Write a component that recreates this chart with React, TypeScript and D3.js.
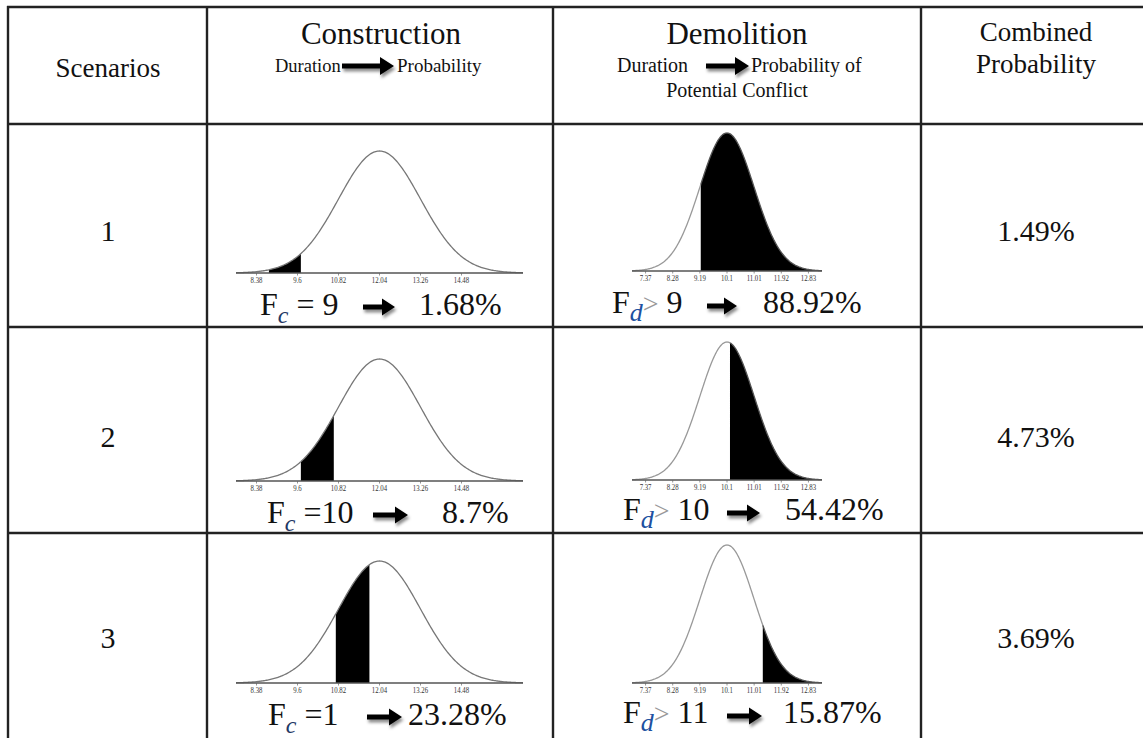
import React from "react";
import * as d3 from "d3";

// Scenario table: construction / demolition duration distributions
const scenarios = ["1", "2", "3"];
const constructionDuration = [9, 10, 1];
const constructionOp = [" = ", " =", " ="];
const constructionProbability = [1.68, 8.7, 23.28];
const demolitionDuration = [9, 10, 11];
const demolitionProbability = [88.92, 54.42, 15.87];
const combinedProbability = [1.49, 4.73, 3.69];

const constructionMean = 12.04;
const constructionSd = 1.22;
const constructionTicks = [8.38, 9.6, 10.82, 12.04, 13.26, 14.48];
const constructionShade: [number, number][] = [
  [8.75, 9.7],
  [9.7, 10.68],
  [10.74, 11.74],
];

const demolitionMean = 10.1;
const demolitionSd = 0.91;
const demolitionTicks = [7.37, 8.28, 9.19, 10.1, 11.01, 11.92, 12.83];
const demolitionShadeFrom = [9.22, 10.2, 11.3];

// layout
const W = 1143;
const H = 738;
const SERIF = "'Liberation Serif', 'Times New Roman', Times, serif";
const colX = [8, 207, 553, 921];
const rowY = [7, 124, 327, 533];
const consAxisY = [273, 481, 683];
const demoAxisY = [271, 480, 683];
const consLabelY = [315, 523, 725];
const demoLabelY = [313, 520, 723];
const consLabelX = [
  { f: 260, a0: 363, a1: 395, v: 419 },
  { f: 267, a0: 373, a1: 408, v: 442 },
  { f: 268, a0: 367, a1: 402, v: 408 },
];
const demoLabelX = [
  { f: 612, a0: 707, a1: 737, v: 763 },
  { f: 623, a0: 727, a1: 760, v: 785 },
  { f: 623, a0: 727, a1: 762, v: 783 },
];
const rowMidY = [241, 447, 648];

const pdf = (m: number, s: number) => (x: number) =>
  Math.exp(-0.5 * ((x - m) / s) ** 2) / (s * Math.sqrt(2 * Math.PI));

function Arrow({ x0, x1, y, head = 13, half = 8.5, thick = 5 }: any) {
  const hx = x1 - head;
  const d = `M${x0},${y - thick / 2} L${hx},${y - thick / 2} L${hx},${y - half} L${x1},${y} L${hx},${y + half} L${hx},${y + thick / 2} L${x0},${y + thick / 2} Z`;
  return <path d={d} fill="#000" filter="url(#arrowShadow)" />;
}

function Bell({
  mean, sd, x0, x1, axisY, peak, ticks, shade, tickFmt, leftColor, rightColor,
}: any) {
  const lo = mean - 3.5 * sd;
  const hi = mean + 3.5 * sd;
  const x = d3.scaleLinear().domain([lo, hi]).range([x0, x1]);
  const f = pdf(mean, sd);
  const y = d3.scaleLinear().domain([0, f(mean)]).range([axisY, axisY - peak]);
  const pts = d3.range(lo, hi + 1e-9, (hi - lo) / 300);
  const line = d3.line<number>().x((v) => x(v)).y((v) => y(f(v)));
  const area = d3
    .area<number>()
    .x((v) => x(v))
    .y0(axisY)
    .y1((v) => y(f(v)));
  const [s0, s1] = shade;
  const shadePts = d3.range(s0, s1, (s1 - s0) / 120).concat([s1]);
  const leftPts = pts.filter((v) => v <= s0).concat([s0]);
  const restPts = [s0].concat(pts.filter((v) => v > s0));
  return (
    <g>
      <path d={area(shadePts) || ""} fill="#000" />
      <path d={line(leftPts) || ""} fill="none" stroke={leftColor} strokeWidth={1.3} />
      <path d={line(restPts) || ""} fill="none" stroke={rightColor} strokeWidth={1.3} />
      <line x1={x0} x2={x1} y1={axisY} y2={axisY} stroke="#555" strokeWidth={1.4} />
      {ticks.map((t: number) => (
        <g key={t}>
          <line x1={x(t)} x2={x(t)} y1={axisY} y2={axisY + 2.5} stroke="#666" strokeWidth={0.7} />
          <text
            x={x(t)}
            y={axisY + 10.5}
            textAnchor="middle"
            fontFamily={SERIF}
            fontSize={8}
            fill="#333"
            transform={`translate(${x(t)},0) scale(0.85,1) translate(${-x(t)},0)`}
          >
            {tickFmt(t)}
          </text>
        </g>
      ))}
    </g>
  );
}

export default function App() {
  const lineProps = { stroke: "#222", strokeWidth: 2.4 };
  return (
    <svg
      width={W}
      height={H}
      viewBox={`0 0 ${W} ${H}`}
      style={{ position: "absolute", left: 0, top: 0, background: "#fff" }}
    >
      <defs>
        <filter id="arrowShadow" x="-30%" y="-60%" width="160%" height="260%">
          <feDropShadow dx="1.5" dy="3" stdDeviation="1.8" floodColor="#000" floodOpacity="0.45" />
        </filter>
      </defs>
      <rect x={0} y={0} width={W} height={H} fill="#fff" />

      {/* grid */}
      {rowY.map((yy) => (
        <line key={"h" + yy} x1={colX[0] - 1} x2={W} y1={yy} y2={yy} {...lineProps} />
      ))}
      {colX.map((xx) => (
        <line key={"v" + xx} x1={xx} x2={xx} y1={rowY[0] - 1} y2={H} {...lineProps} />
      ))}

      {/* header */}
      <g fontFamily={SERIF} fill="#111">
        <text x={108} y={77} textAnchor="middle" fontSize={27}>Scenarios</text>
        <text x={381} y={44} textAnchor="middle" fontSize={31}>Construction</text>
        <text x={275} y={72} fontSize={18.5}>Duration</text>
        <Arrow x0={342} x1={394} y={66} head={14} half={9} thick={5} />
        <text x={397} y={72} fontSize={19}>Probability</text>
        <text x={737} y={44} textAnchor="middle" fontSize={31}>Demolition</text>
        <text x={617} y={72} fontSize={20}>Duration</text>
        <Arrow x0={706} x1={749} y={66} head={14} half={9} thick={5} />
        <text x={751} y={72} fontSize={20}>Probability of</text>
        <text x={737} y={97} textAnchor="middle" fontSize={20}>Potential Conflict</text>
        <text x={1036} y={41} textAnchor="middle" fontSize={27}>Combined</text>
        <text x={1036} y={73} textAnchor="middle" fontSize={27}>Probability</text>
      </g>

      {scenarios.map((s, i) => (
        <g key={s}>
          <text x={108} y={rowMidY[i]} textAnchor="middle" fontFamily={SERIF} fontSize={30} fill="#111">
            {s}
          </text>
          <text x={1036} y={rowMidY[i]} textAnchor="middle" fontFamily={SERIF} fontSize={30} fill="#111">
            {`${combinedProbability[i]}%`}
          </text>

          <Bell
            mean={constructionMean}
            sd={constructionSd}
            x0={236}
            x1={523}
            axisY={consAxisY[i]}
            peak={122}
            ticks={constructionTicks}
            shade={constructionShade[i]}
            tickFmt={(t: number) => String(t)}
            leftColor="#777"
            rightColor="#777"
          />
          <Bell
            mean={demolitionMean}
            sd={demolitionSd}
            x0={632}
            x1={822}
            axisY={demoAxisY[i]}
            peak={138}
            ticks={demolitionTicks}
            shade={[demolitionShadeFrom[i], demolitionMean + 3.5 * demolitionSd]}
            tickFmt={(t: number) => String(t)}
            leftColor="#999"
            rightColor="#555"
          />

          {/* construction label */}
          <text x={consLabelX[i].f} y={consLabelY[i]} fontFamily={SERIF} fontSize={32} fill="#111">
            F
            <tspan dy={8} fontSize={24} fontStyle="italic" fill="#1f3864">c</tspan>
            <tspan dy={-8}>{constructionOp[i] + constructionDuration[i]}</tspan>
          </text>
          <Arrow x0={consLabelX[i].a0} x1={consLabelX[i].a1} y={consLabelY[i] - 8} />
          <text x={consLabelX[i].v} y={consLabelY[i]} fontFamily={SERIF} fontSize={32} fill="#111">
            {`${constructionProbability[i]}%`}
          </text>

          {/* demolition label */}
          <text x={demoLabelX[i].f} y={demoLabelY[i]} fontFamily={SERIF} fontSize={32} fill="#111">
            F
            <tspan dy={8} fontSize={26} fontStyle="italic" fill="#2050a0">d</tspan>
            <tspan dy={-8} fill="#999" fontSize={28}>{">"}</tspan>
            <tspan>{" " + demolitionDuration[i]}</tspan>
          </text>
          <Arrow x0={demoLabelX[i].a0} x1={demoLabelX[i].a1} y={demoLabelY[i] - 7} />
          <text x={demoLabelX[i].v} y={demoLabelY[i]} fontFamily={SERIF} fontSize={32} fill="#111">
            {`${demolitionProbability[i]}%`}
          </text>
        </g>
      ))}
    </svg>
  );
}
